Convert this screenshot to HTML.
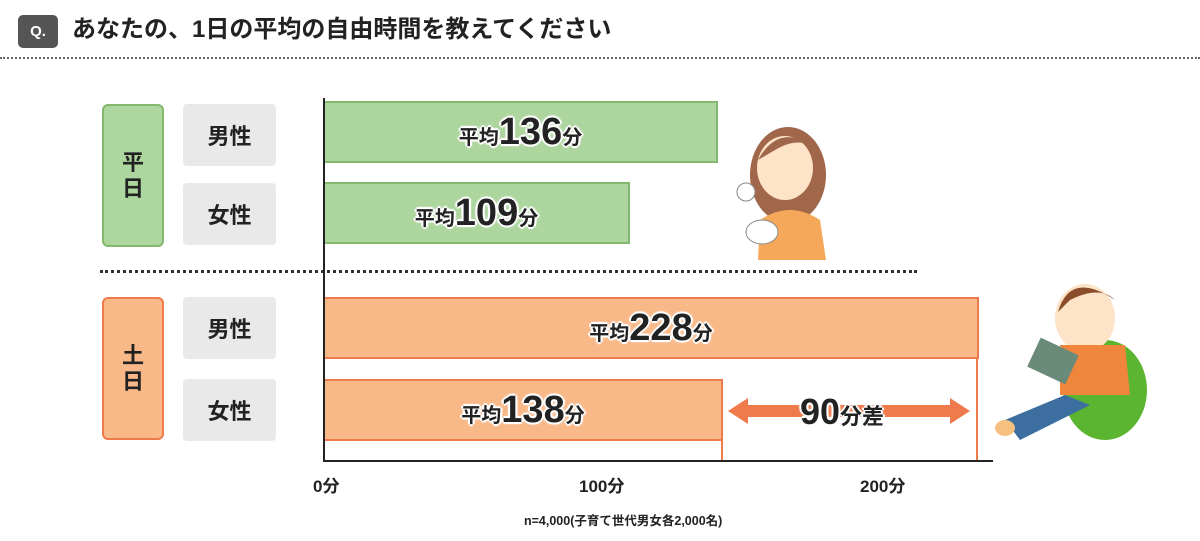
<!DOCTYPE html>
<html><head><meta charset="utf-8"><style>
body{margin:0;width:1200px;height:541px;background:#fff;position:relative;overflow:hidden;font-family:"Liberation Sans","Noto Sans CJK JP",sans-serif;font-weight:bold;color:#222}
.a{position:absolute}
.lbl{position:absolute;display:flex;align-items:center;justify-content:center;background:#e9e9e9;border-radius:4px;font-size:22px;width:93px;height:62px;left:183px}
.bar{position:absolute;left:323px;height:58px;display:flex;align-items:center;justify-content:center;font-size:20px}
.bar span.t{text-shadow:0 0 3px #fff,0 0 3px #fff,0 0 3px #fff,0 0 3px #fff,2px 0 0 #fff,-2px 0 0 #fff,0 2px 0 #fff,0 -2px 0 #fff}
.big{font-size:38px}
.g{background:#acd69d;border:2px solid #84b86e}
.o{background:#f9b888;border:2px solid #ef7a4c}
.tick{position:absolute;top:472px;font-size:17px}
</style></head><body>
<div class="a" style="left:18px;top:15px;width:40px;height:33px;background:#555;border-radius:5px;color:#fff;font-size:15px;display:flex;align-items:center;justify-content:center">Q.</div>
<div class="a" style="left:72px;top:14px;font-size:24px;line-height:32px">あなたの、1日の平均の自由時間を教えてください</div>
<div class="a" style="left:0;top:57px;width:1200px;border-top:2px dotted #666"></div>

<div class="a" style="left:102px;top:104px;width:58px;height:139px;background:#aed79f;border:2px solid #84b86e;border-radius:6px;font-size:22px;display:flex;align-items:center;justify-content:center;text-align:center;line-height:26px">平<br>日</div>
<div class="a" style="left:102px;top:297px;width:58px;height:139px;background:#f9b888;border:2px solid #ef7a4c;border-radius:6px;font-size:22px;display:flex;align-items:center;justify-content:center;text-align:center;line-height:26px">土<br>日</div>

<div class="lbl" style="top:104px">男性</div>
<div class="lbl" style="top:183px">女性</div>
<div class="lbl" style="top:297px">男性</div>
<div class="lbl" style="top:379px">女性</div>

<div class="a" style="left:100px;top:270px;width:817px;border-top:3px dotted #333"></div>

<div class="a" style="left:721px;top:379px;width:0;height:82px;border-left:2px solid #ef7a4c"></div>
<div class="a" style="left:976px;top:357px;width:0;height:104px;border-left:2px solid #ef7a4c"></div>

<div class="bar g" style="top:101px;width:391px"><span class="t">平均<span class="big">136</span>分</span></div>
<div class="bar g" style="top:182px;width:303px"><span class="t">平均<span class="big">109</span>分</span></div>
<div class="bar o" style="top:297px;width:652px"><span class="t">平均<span class="big">228</span>分</span></div>
<div class="bar o" style="top:379px;width:396px"><span class="t">平均<span class="big">138</span>分</span></div>

<svg class="a" style="left:0;top:0" width="1200" height="541">
<line x1="324" y1="98" x2="324" y2="462" stroke="#222" stroke-width="2"/>
<line x1="323" y1="461" x2="993" y2="461" stroke="#222" stroke-width="2"/>
<rect x="745" y="405" width="205" height="12" fill="#ef7a4c"/>
<polygon points="728,411 748,398 748,424" fill="#ef7a4c"/>
<polygon points="970,411 950,398 950,424" fill="#ef7a4c"/>
<ellipse cx="788" cy="175" rx="38" ry="48" fill="#a0674a"/>
<ellipse cx="785" cy="168" rx="28" ry="32" fill="#fde3c8"/>
<path d="M758 160 Q780 120 818 150 Q800 135 775 150 Z" fill="#a0674a"/>
<path d="M760 220 Q790 200 820 220 L826 260 L758 260 Z" fill="#f6a85a"/>
<ellipse cx="762" cy="232" rx="16" ry="12" fill="#fff" stroke="#888"/>
<circle cx="746" cy="192" r="9" fill="#fff" stroke="#888"/>
<ellipse cx="1105" cy="390" rx="42" ry="50" fill="#5cb531"/>
<ellipse cx="1085" cy="318" rx="30" ry="34" fill="#fde3c8"/>
<path d="M1058 312 Q1070 270 1115 300 Q1100 285 1070 300 Z" fill="#8a4f2a"/>
<path d="M1060 345 L1125 345 L1130 395 L1060 395 Z" fill="#f0863c"/>
<rect x="1032" y="345" width="42" height="32" fill="#6a8a7a" transform="rotate(25 1053 361)"/>
<path d="M1005 420 L1065 395 L1090 405 L1020 440 Z" fill="#3d6ea0"/>
<ellipse cx="1005" cy="428" rx="10" ry="8" fill="#f5c080"/>
</svg>

<div class="tick" style="left:313px">0分</div>
<div class="tick" style="left:579px">100分</div>
<div class="tick" style="left:860px">200分</div>
<div class="a" style="left:524px;top:510px;font-size:12.5px">n=4,000(子育て世代男女各2,000名)</div>
<div class="a" style="left:800px;top:391px;font-size:22px;text-shadow:0 0 3px #fff,0 0 3px #fff,2px 0 0 #fff,-2px 0 0 #fff,0 2px 0 #fff,0 -2px 0 #fff"><span style="font-size:36px">90</span>分差</div>
</body></html>
